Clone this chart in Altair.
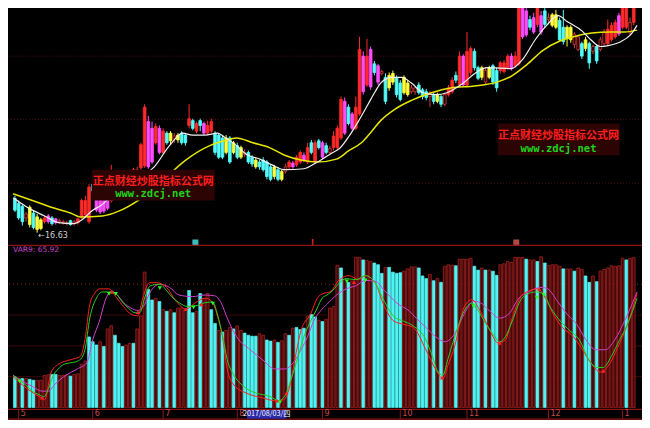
import altair as alt
import pandas as pd

# ---------------- data ----------------
cand_open = [18.4, 18.15, 18.0, 17.4, 17.95, 17.65, 17.45, 17.3, 17.2, 17.5,
             17.4, 17.35, 17.2, 17.15, 17.1, 17.25, 17.1, 17.15, 17.45, 17.55,
             17.2, 19.15, 18.5, 18.4, 18.3, 18.4, 18.3, 19.05, 19.55, 19.2,
             19.7, 19.3, 19.7, 19.8, 20.0, 20.1, 22.4, 22.05, 21.3, 22.05,
             20.8, 21.8, 21.8, 21.5, 21.7, 21.8, 21.7, 22.2, 22.45, 21.9,
             22.45, 22.3, 21.8, 21.9, 21.8, 21.7, 21.55, 21.55, 21.55, 21.3,
             21.15, 21.05, 20.7, 20.8, 20.55, 20.4, 20.3, 20.4, 20.3, 20.05,
             20.05, 19.9, 19.8, 19.8, 20.05, 20.25, 20.15, 20.3, 20.65, 20.3,
             21.3, 20.3, 21.4, 21.3, 21.15, 20.8, 21.05, 21.05, 21.55, 23.45,
             23.15, 22.8, 22.05, 22.8, 25.8, 24.3, 26.15, 25.4, 25.3, 24.9,
             24.7, 24.8, 24.9, 24.65, 24.4, 24.7, 24.4, 23.95, 23.95, 24.3,
             24.05, 23.95, 23.7, 23.8, 23.8, 23.7, 23.3, 23.8, 23.95, 24.8,
             24.3, 25.8, 24.3, 24.95, 26.05, 25.2, 25.2, 24.45, 25.2, 25.3,
             25.05, 25.05, 25.0, 25.2, 25.8, 25.3, 25.4, 28.3, 28.15, 27.7,
             27.8, 27.45, 27.9, 28.15, 27.7, 27.95, 27.95, 27.65, 27.3, 27.3,
             27.3, 26.4, 26.15, 26.45, 26.65, 26.45, 26.05, 26.3, 26.15, 26.45,
             26.45, 26.65, 26.8, 27.9, 27.3, 27.3, 27.05, 27.55]
cand_close = [17.8, 17.4, 17.2, 17.6, 17.05, 16.9, 16.8, 16.85, 17.4, 17.2,
              17.1, 17.15, 17.25, 17.2, 17.15, 17.05, 17.2, 17.35, 18.3, 18.3,
              19.0, 18.8, 17.8, 17.7, 17.75, 17.9, 19.3, 19.55, 19.2, 19.7,
              19.3, 19.8, 19.9, 19.9, 21.2, 23.15, 20.05, 20.3, 22.15, 20.8,
              21.9, 21.3, 21.4, 21.65, 21.45, 21.3, 21.3, 22.55, 22.05, 22.3,
              22.2, 21.8, 22.2, 22.4, 20.8, 20.55, 20.55, 20.8, 20.3, 20.8,
              20.55, 20.55, 20.8, 20.3, 20.2, 20.05, 20.05, 19.9, 19.55, 19.4,
              19.55, 19.4, 19.4, 20.05, 20.3, 20.05, 20.55, 20.8, 20.4, 21.05,
              20.8, 21.3, 21.05, 20.55, 20.8, 21.0, 21.65, 22.05, 23.55, 21.8,
              22.3, 22.05, 23.15, 26.15, 23.95, 25.8, 24.2, 24.95, 24.45, 25.0,
              23.45, 24.15, 24.45, 23.8, 23.55, 23.9, 23.8, 24.15, 24.15, 23.9,
              23.7, 23.65, 23.9, 23.45, 23.45, 23.3, 23.8, 24.15, 24.55, 24.55,
              25.8, 24.3, 26.05, 26.2, 25.2, 24.65, 24.7, 25.05, 24.7, 24.45,
              24.15, 25.45, 25.45, 25.8, 25.15, 25.8, 28.55, 26.8, 26.9, 27.3,
              27.05, 28.4, 27.05, 27.45, 27.8, 27.4, 27.3, 26.65, 26.55, 26.7,
              26.65, 26.95, 26.8, 25.8, 26.2, 25.45, 26.3, 25.55, 26.65, 27.05,
              27.2, 27.4, 27.55, 26.95, 28.3, 28.55, 27.55, 28.55]
cand_high = [18.55, 18.3, 18.1, 17.7, 18.05, 17.8, 17.6, 17.4, 17.5, 17.6,
             17.5, 17.4, 17.35, 17.3, 17.25, 17.3, 17.3, 17.4, 18.4, 18.55,
             19.15, 19.25, 18.6, 18.5, 18.4, 18.5, 20.15, 19.7, 19.7, 19.8,
             19.8, 19.9, 20.0, 20.05, 21.3, 23.3, 22.7, 22.4, 22.3, 22.2,
             22.05, 21.9, 21.9, 21.8, 21.8, 21.9, 21.8, 23.3, 22.55, 22.4,
             22.55, 22.4, 22.45, 22.55, 21.9, 21.8, 21.65, 21.7, 21.65, 21.4,
             21.3, 21.15, 20.95, 20.9, 20.65, 20.55, 20.4, 20.55, 20.4, 20.15,
             20.15, 20.05, 19.9, 20.2, 20.4, 20.35, 20.65, 20.9, 20.8, 21.3,
             21.45, 21.45, 21.5, 21.4, 21.3, 21.15, 21.9, 22.2, 23.7, 23.65,
             23.3, 22.9, 23.7, 26.8, 26.05, 26.7, 26.3, 25.55, 25.4, 25.1,
             24.9, 24.95, 25.05, 24.8, 24.55, 24.8, 24.55, 24.3, 24.2, 24.45,
             24.15, 24.1, 24.0, 23.9, 23.9, 23.8, 23.9, 24.3, 24.7, 25.0,
             26.05, 25.9, 27.05, 26.3, 26.2, 25.3, 25.3, 25.2, 25.3, 25.4,
             25.2, 25.55, 25.6, 25.9, 25.95, 26.05, 28.8, 28.55, 28.55, 27.9,
             28.05, 28.7, 28.15, 28.4, 28.05, 28.05, 28.2, 27.8, 28.2, 27.4,
             27.4, 27.05, 26.9, 26.55, 26.8, 26.55, 26.4, 26.4, 26.8, 27.2,
             27.7, 27.55, 27.7, 28.05, 28.55, 28.8, 27.8, 28.8]
cand_low = [17.7, 17.3, 17.0, 17.2, 16.9, 16.8, 16.63, 16.75, 17.1, 17.1,
            17.0, 17.05, 17.1, 17.05, 17.0, 17.0, 17.0, 17.05, 17.35, 17.45,
            17.1, 18.7, 17.7, 17.6, 17.65, 17.8, 18.2, 18.9, 19.05, 19.05,
            19.2, 19.2, 19.55, 19.6, 19.9, 20.0, 19.95, 20.2, 21.2, 20.7,
            20.7, 21.2, 21.2, 21.3, 21.3, 21.2, 21.15, 22.05, 21.95, 21.8,
            21.9, 21.7, 21.7, 21.8, 20.65, 20.45, 20.45, 20.7, 20.2, 20.7,
            20.45, 20.45, 20.55, 20.2, 20.05, 19.95, 19.9, 19.8, 19.4, 19.3,
            19.4, 19.3, 19.3, 19.7, 19.9, 19.95, 20.05, 20.2, 20.3, 20.2,
            20.7, 20.2, 20.95, 20.45, 20.7, 20.7, 20.9, 20.95, 21.45, 21.7,
            22.2, 21.95, 21.95, 22.7, 23.8, 24.2, 24.05, 24.8, 24.3, 24.8,
            23.3, 24.0, 24.3, 23.65, 23.45, 23.8, 23.7, 23.85, 23.8, 23.8,
            23.55, 23.5, 23.15, 23.3, 23.35, 23.15, 23.2, 23.7, 23.85, 24.4,
            24.2, 24.2, 24.2, 24.8, 25.05, 24.55, 24.55, 24.3, 24.6, 24.3,
            23.95, 24.9, 24.9, 25.1, 25.05, 25.2, 25.3, 26.7, 26.8, 27.15,
            26.95, 27.3, 26.9, 27.3, 27.55, 27.3, 27.2, 26.55, 26.4, 26.3,
            26.5, 26.2, 26.05, 25.65, 26.05, 25.15, 25.9, 25.4, 26.05, 26.3,
            26.35, 26.55, 26.7, 26.85, 27.2, 27.2, 26.9, 27.4]
# r = red up, c = cyan down, m = magenta, y = yellow, d = dark hollow
cand_color = ("c c c d y c y y r m "
              "c m d d d c d r r r "
              "r c m m m m r r m r "
              "c r r d r r m m r m "
              "r c y d y c c r c r "
              "c m r r c c c y c y "
              "c y d c c y c c c c "
              "y c y d r m r r m r "
              "c r c m c d r r r m "
              "c m r r m r m c m d "
              "c y y c c y y d d c "
              "c c d c y c d r r c "
              "r m r r c c y d y c "
              "c r r r m r r m m c "
              "m r m c d y y c c y "
              "y d d c y c d c d d "
              "r r r m r r d r").split()

vol_val = [19.8, 19.0, 18.8, 18.8, 18.3, 17.7, 17.7, 17.7, 20.8, 21.3,
           21.5, 21.5, 20.8, 20.8, 21.3, 20.4, 21.5, 21.9, 28.1, 30.2,
           45.8, 42.7, 40.6, 42.7, 39.6, 51.0, 53.1, 46.9, 41.7, 39.6,
           40.6, 41.7, 41.7, 51.0, 59.4, 87.9, 76.7, 69.8, 70.8, 68.8,
           63.5, 62.5, 63.5, 61.5, 64.6, 64.6, 63.5, 76.0, 61.5, 62.5,
           74.0, 70.8, 74.0, 63.5, 54.6, 50.0, 49.0, 50.0, 52.0, 51.0,
           53.0, 50.0, 48.3, 46.9, 46.3, 46.3, 47.9, 46.9, 43.8, 43.1,
           43.8, 42.3, 43.3, 47.9, 46.9, 51.5, 52.0, 50.6, 51.5, 59.4,
           60.4, 58.8, 56.7, 55.8, 57.3, 64.6, 65.6, 92.3, 90.6, 83.3,
           81.3, 82.3, 97.5, 97.5, 95.8, 95.4, 94.8, 93.8, 92.7, 87.1,
           91.0, 91.0, 87.9, 87.1, 87.5, 88.5, 90.0, 91.3, 91.3, 90.6,
           85.4, 83.7, 86.5, 82.3, 83.7, 81.3, 91.7, 92.7, 92.3, 92.0,
           96.3, 96.3, 96.3, 96.9, 91.7, 89.2, 90.6, 89.2, 89.2, 88.5,
           85.8, 92.7, 93.3, 94.8, 94.2, 97.5, 97.5, 97.5, 96.3, 95.8,
           95.8, 94.8, 97.9, 93.8, 92.3, 92.7, 92.7, 91.7, 90.0, 90.0,
           90.0, 88.5, 90.6, 89.6, 85.4, 81.3, 85.4, 81.7, 88.5, 89.6,
           90.6, 92.0, 91.7, 92.0, 96.9, 95.8, 96.9, 97.3]
vol_col = ("c r c r c c r r r r "
           "c c r r r c r r r r "
           "c c c r c r r c c c "
           "r r c r r r c c r c "
           "r c r c r r r c c r "
           "c r r c c r c r r c "
           "r r c c c c r r c c "
           "r c r r c r c c c r "
           "c c r c r r r r c r "
           "c r r r c r r c c c "
           "r c c c c r r r r c "
           "c c r c r c r r r c "
           "r r r r c c r c r c "
           "c r r r r r r r c r "
           "r c r c r r r r c r "
           "r c r r c c r c r r "
           "r r r r r c r r").split()

# moving averages (white = MA5, yellow = long MA): bar index / price
ma5_i = [-0.5, 4.7, 8.0, 11.7, 15.8, 18.1, 21.0, 23.3, 26.2, 31.9, 37.6, 41.7, 45.3,
         47.9, 51.3, 54.7, 56.5, 59.8, 62.4, 66.1, 69.4, 72.8, 78.0, 81.6, 85.8, 87.6,
         90.2, 92.8, 95.3, 97.2, 98.7, 101.6, 104.4, 107.0, 110.1, 113.5, 116.6, 121.0,
         124.1, 127.5, 133.9, 137.1, 140.4, 143.5, 146.6, 149.0, 153.1, 155.4, 158.0,
         160.1, 163.5, 166.1, 167.9]
ma5_p = [18.45, 17.8, 17.5, 17.15, 17.1, 17.3, 17.8, 18.05, 18.6, 19.4, 20.05, 21.15,
         21.8, 21.7, 21.7, 21.8, 21.6, 21.15, 20.7, 20.45, 20.15, 19.9, 19.95, 20.3, 20.8,
         21.0, 21.65, 22.45, 23.3, 23.95, 24.4, 24.7, 24.7, 24.4, 23.9, 23.8, 23.9, 24.4,
         24.9, 25.2, 25.15, 25.65, 26.65, 27.4, 27.9, 27.6, 27.1, 26.65, 26.3, 26.35,
         26.55, 26.9, 27.4]
mal_i = [-0.5, 4.7, 9.8, 15.0, 17.6, 23.6, 28.0, 33.2, 39.6, 46.1, 52.6, 56.5, 59.8,
         64.2, 68.7, 72.8, 77.2, 81.6, 86.8, 90.2, 93.5, 96.1, 98.7, 102.6, 107.0, 112.4,
         117.6, 124.1, 130.1, 133.9, 138.1, 142.5, 147.2, 151.6, 155.7, 160.6, 164.5, 167.9]
mal_p = [18.65, 18.3, 17.95, 17.65, 17.45, 17.5, 17.75, 18.3, 19.3, 20.4, 21.15, 21.4,
         21.55, 21.3, 21.05, 20.65, 20.4, 20.3, 20.45, 20.9, 21.3, 21.85, 22.45, 23.05,
         23.5, 23.9, 24.15, 24.25, 24.45, 24.75, 25.35, 26.1, 26.6, 26.85, 27.0, 27.05,
         27.05, 27.15]

# indicator lines in the lower pane
g_i = [-0.5, 1.3, 2.9, 4.7, 6.5, 7.8, 9.1, 10.4, 11.7, 13.2, 15.0, 16.8, 18.1, 18.9, 20.2,
       22.0, 23.6, 25.4, 27.2, 28.8, 30.6, 32.4, 33.7, 35.0, 36.5, 39.1, 40.9, 42.7, 44.3,
       46.6, 48.7, 51.3, 53.4, 54.7, 56.0, 57.3, 59.1, 61.7, 65.0, 68.7, 71.2, 72.8, 74.6,
       76.4, 78.0, 79.8, 81.6, 82.9, 84.2, 85.8, 87.6, 89.4, 92.0, 94.6, 97.2, 99.7, 102.3,
       104.9, 107.5, 110.9, 112.7, 114.2, 115.5, 116.8, 118.7, 121.2, 123.3, 125.1, 127.2,
       129.5, 130.8, 132.4, 134.2, 136.3, 138.6, 140.7, 142.5, 144.6, 147.2, 149.7, 152.3,
       154.9, 157.0, 158.8, 160.9, 163.2, 165.3, 167.9]
g_v = [20.8, 17.7, 14.6, 10.6, 8.3, 7.0, 12.5, 21.0, 25.0, 28.0, 29.0, 30.0, 32.5, 37.5,
       58.0, 71.0, 75.0, 75.0, 74.0, 69.0, 64.6, 61.5, 61.5, 71.0, 79.0, 80.0, 76.0, 71.0,
       68.0, 65.6, 66.0, 68.0, 68.5, 60.0, 47.0, 31.0, 21.0, 13.7, 9.4, 7.3, 4.4, 7.3, 18.8,
       33.0, 46.0, 56.0, 64.6, 71.0, 73.0, 76.0, 81.0, 83.7, 83.0, 85.6, 81.0, 68.8, 59.0,
       56.0, 53.0, 44.0, 33.0, 23.0, 21.0, 31.0, 46.0, 62.5, 67.7, 62.5, 54.0, 46.0, 42.7,
       46.0, 56.0, 69.0, 74.0, 75.0, 74.0, 64.6, 56.0, 50.0, 44.0, 31.0, 26.0, 26.0, 33.0,
       44.0, 54.0, 71.0]
r_i = [-0.5, 3.4, 7.3, 8.0, 9.8, 11.7, 15.0, 17.6, 18.9, 20.2, 21.5, 22.8, 25.4, 27.2,
       29.3, 31.3, 33.2, 34.5, 36.3, 38.3, 40.9, 43.5, 46.1, 48.7, 51.3, 53.1, 54.7, 56.0,
       57.3, 59.1, 62.4, 66.8, 70.2, 72.5, 73.8, 75.9, 77.2, 79.8, 81.6, 83.2, 85.0, 87.6,
       90.2, 92.7, 94.6, 97.2, 99.7, 102.3, 104.9, 107.5, 110.9, 113.5, 115.5, 116.8, 118.7,
       121.2, 123.3, 125.6, 128.2, 130.3, 132.4, 134.2, 136.3, 138.6, 141.2, 142.7, 145.1,
       147.7, 150.3, 152.8, 155.4, 158.0, 160.1, 162.7, 165.3, 167.9]
r_v = [20.0, 12.0, 6.0, 5.0, 23.0, 28.0, 31.0, 33.0, 44.0, 67.0, 74.0, 77.0, 77.0, 72.0,
       65.6, 60.6, 59.5, 71.0, 81.0, 81.0, 78.0, 69.0, 64.0, 68.0, 71.0, 69.0, 59.0, 46.0,
       25.0, 14.6, 9.4, 6.3, 4.4, 5.0, 10.6, 35.6, 50.0, 60.6, 71.0, 74.0, 75.0, 83.0, 85.6,
       83.0, 85.6, 81.0, 65.6, 56.0, 54.0, 52.0, 37.5, 25.0, 18.8, 27.0, 40.0, 65.0, 70.0,
       62.5, 50.0, 42.0, 44.0, 58.0, 71.0, 75.6, 77.0, 73.0, 61.5, 52.0, 47.0, 39.0, 29.0,
       23.0, 27.0, 39.0, 54.0, 74.0]
m_i = [-0.5, 2.1, 4.7, 7.3, 9.1, 10.6, 13.2, 16.8, 19.4, 21.0, 22.8, 24.6, 26.2, 28.0,
       29.8, 31.3, 33.2, 35.0, 36.5, 39.1, 41.7, 44.3, 47.9, 51.3, 53.9, 55.7, 57.3, 59.8,
       63.5, 66.8, 70.2, 72.8, 75.1, 77.2, 79.0, 80.6, 82.4, 84.2, 86.8, 89.4, 92.0, 94.6,
       97.2, 99.7, 103.1, 106.5, 108.3, 110.9, 113.5, 116.1, 118.7, 121.2, 123.8, 125.6,
       128.2, 130.8, 133.4, 136.0, 138.6, 142.0, 143.8, 146.4, 149.0, 151.6, 154.1, 156.7,
       159.3, 161.9, 164.5, 167.9]
m_v = [21.0, 17.0, 13.7, 10.6, 10.6, 14.6, 20.0, 25.0, 29.0, 44.0, 56.0, 71.0, 75.6, 72.0,
       67.0, 64.6, 63.0, 67.0, 75.0, 80.0, 78.0, 73.0, 72.0, 73.0, 72.5, 67.7, 58.0, 46.0,
       37.5, 31.0, 25.0, 25.0, 29.0, 37.5, 46.0, 56.0, 62.5, 67.0, 73.0, 77.0, 79.0, 82.5,
       82.0, 76.0, 67.7, 62.5, 58.0, 52.0, 46.0, 42.7, 48.0, 60.6, 69.0, 68.0, 62.5, 58.0,
       61.0, 71.0, 75.0, 78.0, 77.0, 69.0, 60.6, 54.0, 44.0, 37.5, 37.5, 44.0, 56.0, 75.0]

# buy / sell signal arrows
sig_i = [1.3, 7.3, 25.4, 26.2, 27.2, 33.2, 39.1, 46.1, 48.2, 50.3, 53.4, 70.7, 71.5, 73.3,
         89.6, 91.5, 94.6, 115.3, 123.8, 130.8, 140.9, 141.5, 142.7, 158.8]
sig_v = [16.9, 6.3, 73.8, 75.0, 73.8, 61.9, 77.5, 63.8, 65.0, 66.9, 67.5, 4.4, 3.1, 9.4,
         81.9, 81.3, 82.5, 19.4, 65.6, 41.9, 71.3, 76.9, 73.1, 23.8]
sig_k = ["g", "r"] * 12

month_i = [1, 21, 40, 60, 83, 104, 122, 144, 164]
month_t = ["5", "6", "7", "8", "9", "10", "11", "12", "1"]
date_label = "2017/08/03/四"
low_label = "←16.63"
var_name, var_value = "VAR9", 65.92
wm_cn = "正点财经炒股指标公式网"
wm_url = "www.zdcj.net"
grid_p = [25.8, 22.5, 19.2]

# ---------------- layout ----------------
W, H = 634, 412
SY = H / 428
xs = alt.Scale(domain=[-0.52, 167.88], nice=False, zero=False)
ps = alt.Scale(domain=[16.15, 28.3], range=[243 * SY, 0], nice=False, zero=False)
vs = alt.Scale(domain=[0, 100], range=[415 * SY, 255 * SY], nice=False, zero=False)


def X(f):
    return alt.X(f, scale=xs, axis=None)


def YP(f):
    return alt.Y(f, scale=ps, axis=None)


def YV(f):
    return alt.Y(f, scale=vs, axis=None)


n = len(cand_open)
cdf = pd.DataFrame({"i": range(n), "open": cand_open, "close": cand_close,
                    "high": cand_high, "low": cand_low, "col": cand_color})
vdf = pd.DataFrame({"i": range(len(vol_val)), "v": vol_val, "vc": vol_col})

codes = ["r", "c", "m", "y", "d"]
c_fill = ["#ff2a2a", "#54fcfc", "#ff4cff", "#ffff3c", "#1e0000"]
c_stroke = ["#ff2a2a", "#54fcfc", "#ff4cff", "#ffff3c", "#d03a3a"]

layers = []

# upper-pane grid
layers.append(alt.Chart(pd.DataFrame({"p": grid_p})).mark_rule(
    color="#4e0c0c", strokeDash=[1, 2], strokeWidth=1).encode(y=YP("p:Q")))
# lower-pane grid
layers.append(alt.Chart(pd.DataFrame({"v": [20, 40, 60]})).mark_rule(
    color="#3c0808", strokeWidth=1).encode(y=YV("v:Q")))
layers.append(alt.Chart(pd.DataFrame({"v": [80]})).mark_rule(
    color="#8c2020", strokeDash=[1, 3], strokeWidth=1).encode(y=YV("v:Q")))

# candles
layers.append(alt.Chart(cdf).mark_rule(clip=True, strokeWidth=1).encode(
    x=X("i:Q"), y=YP("low:Q"), y2="high:Q",
    color=alt.Color("col:N", scale=alt.Scale(domain=codes, range=c_stroke), legend=None)))
layers.append(alt.Chart(cdf).mark_bar(clip=True, size=2.7, strokeWidth=0.8).encode(
    x=X("i:Q"), y=YP("open:Q"), y2="close:Q",
    fill=alt.Fill("col:N", scale=alt.Scale(domain=codes, range=c_fill), legend=None),
    stroke=alt.Stroke("col:N", scale=alt.Scale(domain=codes, range=c_stroke), legend=None)))

# moving averages
layers.append(alt.Chart(pd.DataFrame({"i": mal_i, "p": mal_p})).mark_line(
    clip=True, color="#e6e600", strokeWidth=1.5, interpolate="monotone").encode(
    x=X("i:Q"), y=YP("p:Q")))
layers.append(alt.Chart(pd.DataFrame({"i": ma5_i, "p": ma5_p})).mark_line(
    clip=True, color="#f0f0f0", strokeWidth=1.2, interpolate="monotone").encode(
    x=X("i:Q"), y=YP("p:Q")))

# watermark boxes (drawn over the candles)
wm = pd.DataFrame({"x0": [20.7, 130.3], "x1": [53.9, 163.2], "y0": [19.9, 22.3],
                   "y1": [18.3, 20.65], "xc": [37.3, 146.7], "ty": [19.28, 21.63],
                   "uy": [18.66, 21.0], "cn": [wm_cn, wm_cn], "url": [wm_url, wm_url]})
layers.append(alt.Chart(wm).mark_rect(fill="#2c0404").encode(
    x=X("x0:Q"), x2="x1:Q", y=YP("y0:Q"), y2="y1:Q"))
layers.append(alt.Chart(wm).mark_text(
    font="Noto Sans CJK SC", fontSize=11, fontWeight="bold", color="#ff1e1e",
    baseline="middle").encode(x=X("xc:Q"), y=YP("ty:Q"), text="cn:N"))
layers.append(alt.Chart(wm).mark_text(
    font="DejaVu Sans Mono", fontSize=10.5, fontWeight="bold", color="#1ed21e",
    baseline="middle").encode(x=X("xc:Q"), y=YP("uy:Q"), text="url:N"))

# low price label
layers.append(alt.Chart(pd.DataFrame({"i": [6.3], "p": [16.45], "t": [low_label]})).mark_text(
    align="left", baseline="middle", fontSize=8, color="#d0d0d0", font="DejaVu Sans").encode(
    x=X("i:Q"), y=YP("p:Q"), text="t:N"))

# little info icons on the pane separator
icons = pd.DataFrame({"i": [48.7, 135.3], "p": [16.12, 16.12], "k": ["a", "b"]})
layers.append(alt.Chart(icons).mark_square(size=36, opacity=1).encode(
    x=X("i:Q"), y=YP("p:Q"),
    fill=alt.Fill("k:N", scale=alt.Scale(domain=["a", "b"], range=["#3cbcbc", "#b04848"]), legend=None)))
layers.append(alt.Chart(pd.DataFrame({"i": [80.3], "p": [16.12], "t": ["!"]})).mark_text(
    fontSize=9, fontWeight="bold", color="#ff3030", baseline="middle").encode(
    x=X("i:Q"), y=YP("p:Q"), text="t:N"))

# separator, axis line, bottom line
layers.append(alt.Chart(pd.DataFrame({"v": [105.3, -1.2, -7.6]})).mark_rule(
    color="#8c1414", strokeWidth=1.2).encode(y=YV("v:Q")))

# lower-pane bars
layers.append(alt.Chart(vdf).mark_bar(size=2.8, strokeWidth=0.7).encode(
    x=X("i:Q"), y=YV("v:Q"), y2=alt.datum(0),
    fill=alt.Fill("vc:N", scale=alt.Scale(domain=["c", "r"], range=["#50f2f2", "#420a0a"]), legend=None),
    stroke=alt.Stroke("vc:N", scale=alt.Scale(domain=["c", "r"], range=["#50f2f2", "#b02424"]), legend=None)))

# indicator lines
layers.append(alt.Chart(pd.DataFrame({"i": m_i, "v": m_v})).mark_line(
    color="#d040d0", strokeWidth=1, interpolate="monotone").encode(x=X("i:Q"), y=YV("v:Q")))
layers.append(alt.Chart(pd.DataFrame({"i": r_i, "v": r_v})).mark_line(
    color="#ff2020", strokeWidth=1, interpolate="monotone").encode(x=X("i:Q"), y=YV("v:Q")))
layers.append(alt.Chart(pd.DataFrame({"i": g_i, "v": g_v})).mark_line(
    color="#22d022", strokeWidth=1, interpolate="monotone").encode(x=X("i:Q"), y=YV("v:Q")))

# signal arrows
sdf = pd.DataFrame({"i": sig_i, "v": sig_v, "k": sig_k})
layers.append(alt.Chart(sdf[sdf.k == "g"]).mark_point(
    shape="triangle-down", filled=True, size=18, color="#22ff22", opacity=1).encode(
    x=X("i:Q"), y=YV("v:Q")))
layers.append(alt.Chart(sdf[sdf.k == "r"]).mark_point(
    shape="triangle-up", filled=True, size=18, color="#ff2020", opacity=1).encode(
    x=X("i:Q"), y=YV("v:Q")))

# VAR9 label
layers.append(alt.Chart(pd.DataFrame({"i": [-0.52], "v": [102.4],
                                      "t": [f"{var_name}: {var_value:.2f}"]})).mark_text(
    align="left", baseline="middle", fontSize=7.5, color="#cc44cc", font="DejaVu Sans").encode(
    x=X("i:Q"), y=YV("v:Q"), text="t:N"))

# month axis (ticks + labels)
mdf = pd.DataFrame({"i": month_i, "t": month_t, "a": -1.2, "b": -7.6, "ly": -4.4})
layers.append(alt.Chart(mdf).mark_rule(color="#8c1414", strokeWidth=1).encode(
    x=X("i:Q"), y=YV("a:Q"), y2="b:Q"))
layers.append(alt.Chart(mdf).mark_text(
    align="left", baseline="middle", dx=2, fontSize=8, color="#c84a4a",
    font="DejaVu Sans").encode(x=X("i:Q"), y=YV("ly:Q"), text="t:N"))

# highlighted date box
ddf = pd.DataFrame({"x0": [62.6], "x1": [73.3], "y0": [-1.6], "y1": [-7.3],
                    "xc": [67.95], "ly": [-4.4], "t": [date_label]})
layers.append(alt.Chart(ddf).mark_rect(fill="#2a2aa8").encode(
    x=X("x0:Q"), x2="x1:Q", y=YV("y0:Q"), y2="y1:Q"))
layers.append(alt.Chart(ddf).mark_text(
    color="#ffffff", fontSize=7.2, baseline="middle", font="Noto Sans CJK SC").encode(
    x=X("xc:Q"), y=YV("ly:Q"), text="t:N"))

chart = alt.layer(*layers).properties(
    width=W, height=H, padding=0,
    autosize=alt.AutoSizeParams(type="none"),
    background="#000000",
).resolve_scale(
    y="independent", color="independent", fill="independent", stroke="independent"
).configure_view(stroke=None)

chart.save("out.html", embed_options={"renderer": "svg", "actions": False})
